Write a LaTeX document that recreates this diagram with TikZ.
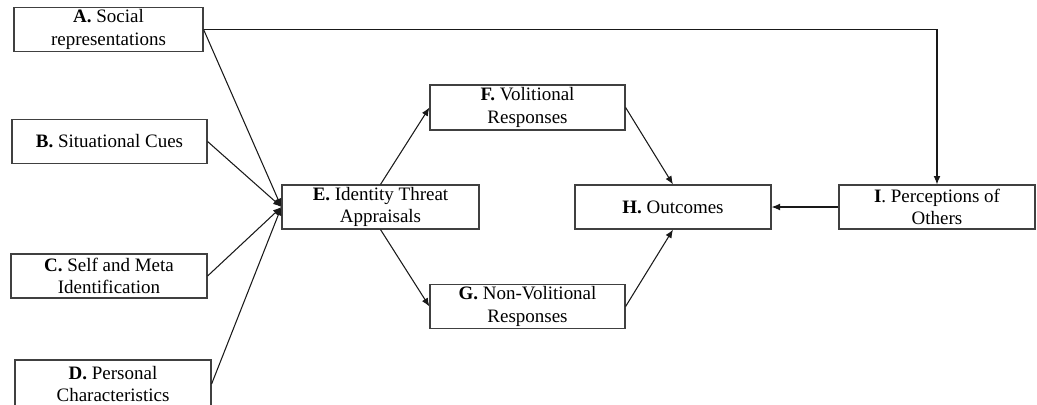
\documentclass[tikz,border=0pt]{standalone}
\usepackage{fontspec}
\setmainfont{Liberation Serif}
\usetikzlibrary{arrows.meta}
\tikzset{
  box/.style={draw=black!75, line width=0.8pt, rectangle, align=center, inner sep=0pt,
    minimum width=4.9cm, minimum height=1.1cm, font=\fontsize{13.5}{15.8}\selectfont},
  link/.style={-{Latex[length=2.1mm,width=1.7mm]}, line width=0.75pt, color=black!90}
}

\begin{document}
\begin{tikzpicture}[x=0.025cm,y=-0.025cm]
\useasboundingbox (0,0) rectangle (1037,404);
\clip (0,0) rectangle (1037,404);
\node (A) at (108.5,29.5) [box, minimum width=4.725cm] {\textbf{A.} Social\\representations};
\node (B) at (109.5,141.5) [box, minimum width=4.875cm] {\textbf{B.} Situational Cues};
\node (C) at (109,276) [box] {\textbf{C.} Self and Meta\\Identification};
\node (D) at (113,384) [box, minimum height=1.2cm] {\textbf{D.} Personal\\Characteristics};
\node (E) at (380.5,207) [box, minimum width=4.925cm] {\textbf{E.} Identity Threat\\Appraisals};
\node (F) at (527.5,107.5) [box, minimum width=4.875cm, minimum height=1.125cm] {\textbf{F.} Volitional\\Responses};
\node (G) at (527.5,306.5) [box, minimum width=4.875cm] {\textbf{G.} Non-Volitional\\Responses};
\node (H) at (673,207) [box] {\textbf{H.} Outcomes};
\node (I) at (937,207) [box] {\textbf{I}. Perceptions of\\Others};
\draw[link] (A.east) -- (E.west);
\draw[link] (B.east) -- (E.west);
\draw[link] (C.east) -- (E.west);
\draw[link] (D.east) -- (E.west);
\draw[link] (E.north) -- (F.west);
\draw[link] (E.south) -- (G.west);
\draw[link] (F.east) -- (H.north);
\draw[link] (G.east) -- (H.south);
\draw[link] (I.west) -- (H.east);
\draw[link] (A.east) -| (I.north);
\end{tikzpicture}
\end{document}
